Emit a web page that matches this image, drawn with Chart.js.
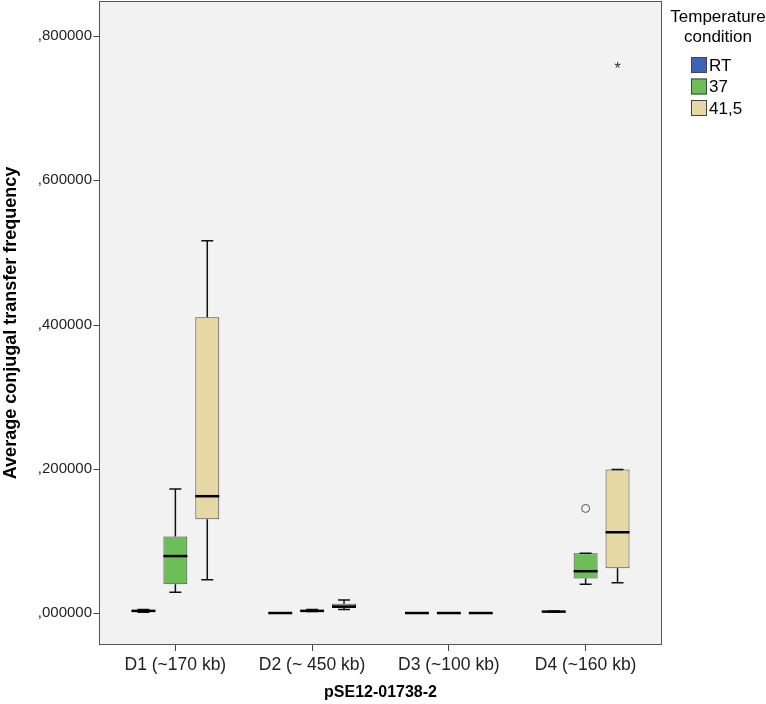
<!DOCTYPE html>
<html>
<head>
<meta charset="utf-8">
<script src="https://cdn.jsdelivr.net/npm/chart.js@4.4.0/dist/chart.umd.min.js"></script>
<style>
html, body { margin: 0; padding: 0; background: #fff; }
#wrap { width: 766px; height: 704px; }
</style>
</head>
<body>
<div id="wrap"><canvas id="myChart"></canvas></div>
<script>
var categories = ['D1 (~170 kb)', 'D2 (~ 450 kb)', 'D3 (~100 kb)', 'D4 (~160 kb)'];
var seriesNames = ['RT', '37', '41,5'];
var seriesColors = ['#3D64B4', '#6EBE58', '#E5D8A4'];
var yTicks = [0, 0.2, 0.4, 0.6, 0.8];

// [min, q1, median, q3, max] for each category
var boxesRT = [[0.001, 0.002, 0.003, 0.004, 0.005], [0, 0, 0, 0, 0], [0, 0, 0, 0, 0], [0.001, 0.002, 0.002, 0.003, 0.003]];
var boxes37 = [[0.029, 0.040, 0.079, 0.106, 0.172], [0.002, 0.003, 0.003, 0.004, 0.005], [0, 0, 0, 0, 0], [0.040, 0.048, 0.058, 0.083, 0.083]];
var boxes415 = [[0.046, 0.130, 0.162, 0.410, 0.516], [0.005, 0.007, 0.009, 0.013, 0.018], [0, 0, 0, 0, 0], [0.042, 0.062, 0.112, 0.199, 0.199]];
var allBoxes = [boxesRT, boxes37, boxes415];

// outliers (circle) and extremes (star)
var outliersRT = [[], [], [], []];
var outliers37 = [[], [], [], [0.145]];
var outliers415 = [[], [], [], []];
var extremesRT = [[], [], [], []];
var extremes37 = [[], [], [], []];
var extremes415 = [[], [], [], [0.757]];
var allOutliers = [outliersRT, outliers37, outliers415];
var allExtremes = [extremesRT, extremes37, extremes415];

// the frame sits a bit wider than the category range, like SPSS does
var frameInset = 8;

var boxPlot = {
    id: 'boxPlot',
    beforeDraw: function(chart) {
        var a = chart.chartArea, ctx = chart.ctx;
        ctx.save();
        ctx.fillStyle = '#F2F2F2';
        ctx.fillRect(a.left - frameInset, a.top, a.right - a.left + 2 * frameInset - 1, a.bottom - a.top);
        ctx.restore();
    },
    afterDatasetsDraw: function(chart) {
        var ctx = chart.ctx, y = chart.scales.y;
        ctx.save();
        allBoxes.forEach(function(boxes, i) {
            var meta = chart.getDatasetMeta(i);
            boxes.forEach(function(b, j) {
                var el = meta.data[j];
                var x = el.x, w = el.width, cap = w / 2;
                ctx.strokeStyle = '#111';
                ctx.lineWidth = 1.5;
                ctx.beginPath();
                ctx.moveTo(x, y.getPixelForValue(b[3]));
                ctx.lineTo(x, y.getPixelForValue(b[4]));
                ctx.moveTo(x - cap / 2, y.getPixelForValue(b[4]));
                ctx.lineTo(x + cap / 2, y.getPixelForValue(b[4]));
                ctx.moveTo(x, y.getPixelForValue(b[1]));
                ctx.lineTo(x, y.getPixelForValue(b[0]));
                ctx.moveTo(x - cap / 2, y.getPixelForValue(b[0]));
                ctx.lineTo(x + cap / 2, y.getPixelForValue(b[0]));
                ctx.stroke();
                // median
                ctx.lineWidth = 2.5;
                ctx.strokeStyle = '#000';
                ctx.beginPath();
                ctx.moveTo(x - w / 2, y.getPixelForValue(b[2]));
                ctx.lineTo(x + w / 2, y.getPixelForValue(b[2]));
                ctx.stroke();
                allOutliers[i][j].forEach(function(v) {
                    ctx.lineWidth = 1;
                    ctx.strokeStyle = '#555';
                    ctx.fillStyle = '#F2F2F2';
                    ctx.beginPath();
                    ctx.arc(x, y.getPixelForValue(v), 4, 0, Math.PI * 2);
                    ctx.fill();
                    ctx.stroke();
                });
                allExtremes[i][j].forEach(function(v) {
                    ctx.fillStyle = '#333';
                    ctx.font = '16px "Liberation Sans", Arial, sans-serif';
                    ctx.textAlign = 'center';
                    ctx.textBaseline = 'middle';
                    ctx.fillText('*', x, y.getPixelForValue(v) + 3);
                });
            });
        });
        // frame + y tick marks
        var a = chart.chartArea;
        var fl = Math.round(a.left - frameInset) + 0.5, fr = Math.round(a.right + frameInset) - 0.5;
        ctx.strokeStyle = '#555';
        ctx.lineWidth = 1;
        ctx.strokeRect(fl, a.top + 0.5, fr - fl, a.bottom - a.top - 1);
        ctx.strokeStyle = '#444';
        ctx.beginPath();
        yTicks.forEach(function(v) {
            var py = Math.round(y.getPixelForValue(v)) + 0.5;
            ctx.moveTo(fl - 6, py);
            ctx.lineTo(fl, py);
        });
        ctx.stroke();
        ctx.restore();
    },
    afterDraw: function(chart) {
        var ctx = chart.ctx;
        ctx.save();
        ctx.fillStyle = '#000';
        ctx.font = '17px "Liberation Sans", Arial, sans-serif';
        ctx.textAlign = 'center';
        ctx.textBaseline = 'middle';
        ctx.fillText('Temperature', 718, 17);
        ctx.fillText('condition', 718, 37);
        ctx.textAlign = 'left';
        seriesNames.forEach(function(name, i) {
            var cy = 65 + i * 21.5;
            ctx.fillStyle = seriesColors[i];
            ctx.fillRect(691, cy - 8, 16, 16);
            ctx.strokeStyle = '#444';
            ctx.lineWidth = 1;
            ctx.strokeRect(691.5, cy - 7.5, 15, 15);
            ctx.fillStyle = '#000';
            ctx.fillText(name, 709, cy + 1);
        });
        ctx.restore();
    }
};

var ctx = document.getElementById('myChart').getContext('2d');
var chart = new Chart(ctx, {
    type: 'bar',
    data: {
        labels: categories,
        datasets: allBoxes.map(function(boxes, i) {
            return {
                label: seriesNames[i],
                data: boxes.map(function(b) { return [b[1], b[3]]; }),
                backgroundColor: seriesColors[i],
                borderColor: '#444',
                borderWidth: 1,
                borderSkipped: false,
                categoryPercentage: 0.70,
                barPercentage: 0.75
            };
        })
    },
    options: {
        responsive: true,
        maintainAspectRatio: false,
        animation: false,
        layout: { padding: { top: 1, right: 112, left: 0, bottom: 0 } },
        plugins: {
            legend: { display: false },
            tooltip: { enabled: false }
        },
        scales: {
            x: {
                grid: { offset: false, drawOnChartArea: false, drawTicks: true, tickLength: 6, color: '#444' },
                border: { display: false },
                ticks: { font: { size: 17.5, family: '"Liberation Sans", Arial' }, color: '#222', padding: 4 },
                title: {
                    display: true, text: 'pSE12-01738-2', color: '#000',
                    font: { size: 16, weight: 'bold', family: '"Liberation Sans", Arial' },
                    padding: { top: 0, bottom: 2 }
                },
                afterFit: function(scale) { scale.height = 59; scale.paddingLeft = 0; scale.paddingRight = 0; }
            },
            y: {
                min: -0.0443,
                max: 0.8485,
                afterBuildTicks: function(scale) {
                    scale.ticks = yTicks.map(function(v) { return { value: v }; });
                },
                grid: { drawOnChartArea: false, drawTicks: false },
                border: { display: false },
                ticks: {
                    font: { size: 15, family: '"Liberation Sans", Arial' }, color: '#222', padding: 15,
                    callback: function(v) { return v.toFixed(6).replace('0.', ','); }
                },
                title: {
                    display: true, text: 'Average conjugal transfer frequency', color: '#000',
                    font: { size: 18, weight: 'bold', family: '"Liberation Sans", Arial' },
                    padding: { top: 0, bottom: 0 }
                },
                afterFit: function(scale) { scale.width = 107; scale.paddingTop = 0; scale.paddingBottom = 0; }
            }
        }
    },
    plugins: [boxPlot]
});
</script>
</body>
</html>
